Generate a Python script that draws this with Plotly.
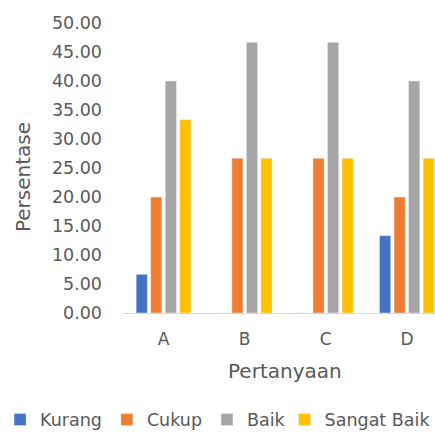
import plotly.graph_objects as go

categories = ["A", "B", "C", "D"]
kurang = [6.67, 0, 0, 13.33]
cukup = [20.0, 26.67, 26.67, 20.0]
baik = [40.0, 46.67, 46.67, 40.0]
sangat_baik = [33.33, 26.67, 26.67, 26.67]
y_ticks = [0, 5, 10, 15, 20, 25, 30, 35, 40, 45, 50]

series = [
    ("Kurang", kurang, "#4472C4", "legend"),
    ("Cukup", cukup, "#ED7D31", "legend"),
    ("Baik", baik, "#A5A5A5", "legend"),
    ("Sangat Baik", sangat_baik, "#FFC000", "legend2"),
]

FONT = "DejaVu Sans"
GRAY = "#595959"

fig = go.Figure()
for name, vals, color, lg in series:
    fig.add_trace(go.Bar(name=name, x=categories, y=vals, marker_color=color,
                         legend=lg))

fig.update_layout(
    width=435, height=432,
    margin=dict(l=123, r=0, t=23, b=119, autoexpand=False),
    paper_bgcolor="white", plot_bgcolor="white",
    barmode="group", bargap=0.283, bargroupgap=0.23,
    font=dict(family=FONT, color=GRAY),
    showlegend=True,
    legend=dict(orientation="h", x=-0.394, xanchor="left", y=-0.306, yanchor="top",
                font=dict(family=FONT, size=17.5, color=GRAY), bgcolor="rgba(0,0,0,0)"),
    legend2=dict(orientation="h", x=0.518, xanchor="left", y=-0.306, yanchor="top",
                 font=dict(family=FONT, size=17.5, color=GRAY), bgcolor="rgba(0,0,0,0)"),
    xaxis=dict(range=[-0.5, 3.346], showgrid=False, showline=True, linecolor="#D9D9D9",
               linewidth=1, ticks="", tickfont=dict(family=FONT, size=17, color=GRAY),
               ticklabelstandoff=11, zeroline=False),
    yaxis=dict(range=[0, 50], tickvals=y_ticks, tickformat=".2f", showgrid=False,
               showline=False, zeroline=False, ticks="",
               tickfont=dict(family=FONT, size=17.5, color=GRAY), ticklabelstandoff=20),
    annotations=[
        dict(text="Pertanyaan", x=1.5, xref="x", y=-0.199, yref="paper",
             xanchor="center", yanchor="middle", showarrow=False,
             font=dict(family=FONT, size=20, color=GRAY)),
        dict(text="Persentase", x=-0.3226, xref="paper", y=0.47, yref="paper",
             xanchor="center", yanchor="middle", textangle=-90, showarrow=False,
             font=dict(family=FONT, size=20, color=GRAY)),
    ],
)

fig.write_html("out.html")
